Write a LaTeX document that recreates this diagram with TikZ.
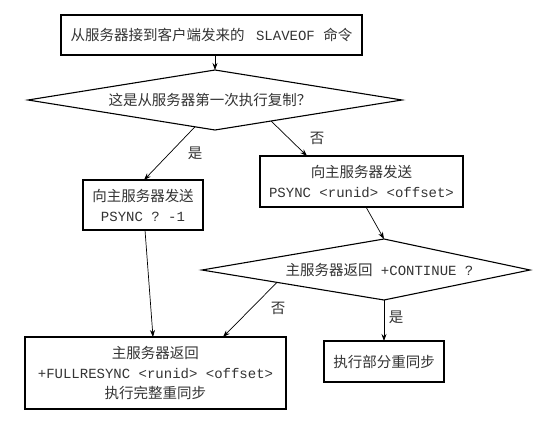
\documentclass[tikz,border=0pt]{standalone}
\usepackage{fontspec}
\setmainfont{Liberation Serif}
\newfontfamily\cjk{Noto Sans CJK SC}
\newfontfamily\mono{Liberation Mono}
\usetikzlibrary{shapes.geometric,arrows.meta,calc}
\tikzset{
  box/.style={draw, line width=1.1pt, rectangle, inner sep=0pt, outer sep=0pt, align=center,
    text=black!80, font=\cjk\fontsize{14.5pt}{20pt}\selectfont},
  dia/.style={draw, line width=1.1pt, diamond, inner sep=0pt, outer sep=0pt},
  txt/.style={inner sep=0pt, text=black!80, font=\cjk\fontsize{14.5pt}{20pt}\selectfont},
  arr/.style={line width=0.7pt, -{Stealth[length=7pt,width=5pt]}},
}
\begin{document}
\begin{tikzpicture}[x=1pt,y=-1pt]
\useasboundingbox[fill=white] (0,0) rectangle (542,421);
% boxes
\node[box, minimum width=301pt, minimum height=40pt] (b1) at (211.5,35)
  {从服务器接到客户端发来的\hspace{3pt}{\mono\fontsize{14pt}{20pt}\selectfont\ SLAVEOF\ }命令};
\node[dia, minimum width=374pt, minimum height=60pt] (d1) at (215,100) {};
\node[txt] (d1t) at (210,100) {这是从服务器第一次执行复制？};
\node[box, minimum width=120pt, minimum height=50pt] (b2) at (143,205)
  {向主服务器发送\\{\mono\fontsize{14pt}{20pt}\selectfont PSYNC ? -1}};
\node[box, minimum width=203pt, minimum height=51pt] (b3) at (361.5,181.5)
  {向主服务器发送\\{\mono\fontsize{14pt}{20pt}\selectfont PSYNC <runid> <offset>}};
% asymmetric decision
\coordinate (d2t) at (384,239);
\coordinate (d2r) at (530,270);
\coordinate (d2b) at (384,300);
\coordinate (d2l) at (202,270);
\draw[line width=1.1pt, line join=miter] (d2t) -- (d2r) -- (d2b) -- (d2l) -- cycle;
\node[txt] (d2) at (379.5,270) {主服务器返回{\mono\fontsize{14pt}{20pt}\selectfont\ +CONTINUE ?}};
\node[box, minimum width=261pt, minimum height=72pt] (b4) at (155.5,373)
  {主服务器返回\\{\mono\fontsize{14pt}{19pt}\selectfont +FULLRESYNC <runid> <offset>}\\执行完整重同步};
\node[box, minimum width=120pt, minimum height=41pt] (b5) at (384,361.5) {执行部分重同步};
% connectors
\draw[arr] ([xshift=3.5pt]b1.south) -- (d1.north);
\draw[arr] ($(d1.west)!0.893!(d1.south)$) -- ([xshift=1pt]b2.north);
\node[txt] (l1) at (195,153) {是};
\draw[arr] ($(d1.south)!0.3!(d1.east)$) -- ([xshift=-54.5pt]b3.north);
\node[txt] (l2) at (317,138) {否};
\draw[arr] ([xshift=4.5pt]b3.south) -- (d2t);
\draw[arr] ([xshift=2pt]b2.south) -- ([xshift=-2.5pt]b4.north);
\draw[arr] ($(d2l)!0.412!(d2b)$) -- ([xshift=67.5pt]b4.north);
\node[txt] (l3) at (278,308) {否};
\draw[arr] (d2b) -- (b5.north);
\node[txt] (l4) at (396,317) {是};
\end{tikzpicture}
\end{document}
